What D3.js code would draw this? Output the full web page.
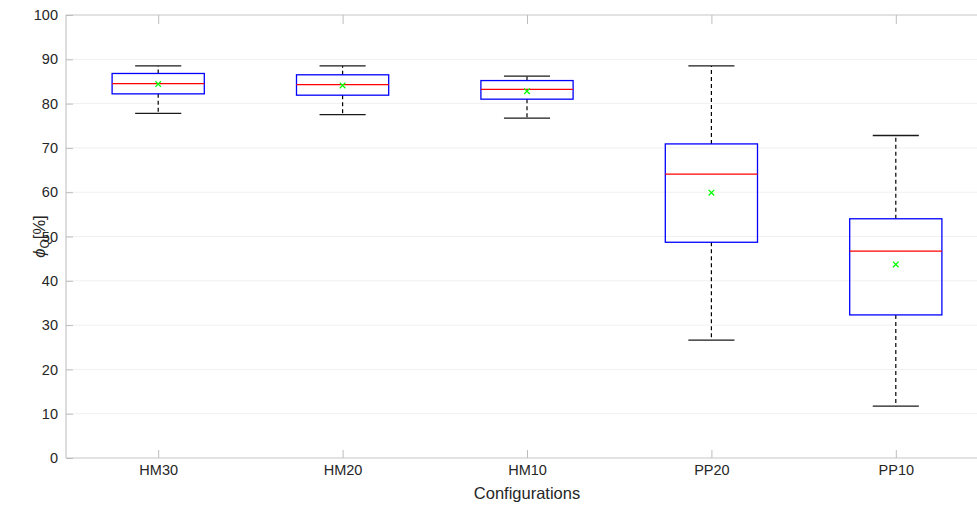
<!DOCTYPE html>
<html>
<head>
<meta charset="utf-8">
<script src="https://cdn.jsdelivr.net/npm/d3@7"></script>
<style>
  html, body { margin: 0; padding: 0; background: #fff; overflow: hidden; }
  svg { display: block; font-family: "Liberation Sans", Arial, sans-serif; }
</style>
</head>
<body>
<svg id="chart" width="977" height="506"></svg>
<script>
// Box-plot statistics per configuration
const categories = ["HM30", "HM20", "HM10", "PP20", "PP10"];
const whiskerLow  = [77.8, 77.5, 76.7, 26.6, 11.7];
const quartile1   = [82.2, 81.9, 81.0, 48.7, 32.3];
const medians     = [84.5, 84.3, 83.2, 64.1, 46.7];
const quartile3   = [86.8, 86.5, 85.2, 70.9, 54.0];
const whiskerHigh = [88.5, 88.5, 86.2, 88.5, 72.8];
const means       = [84.4, 84.1, 82.8, 59.9, 43.7];
const yTicks = [0, 10, 20, 30, 40, 50, 60, 70, 80, 90, 100];

const svg = d3.select("#chart");
const plotLeft = 66, plotTop = 15, plotBottom = 458, plotRight = 988;

const x = d3.scaleLinear().domain([0.5, categories.length + 0.5]).range([plotLeft, plotRight]);
const y = d3.scaleLinear().domain([0, 100]).range([plotBottom, plotTop]);

const boxHalf = 0.25, capHalf = 0.125;
const textColor = "#262626";

// grid
svg.append("g").selectAll("line").data(yTicks.slice(1, -1)).join("line")
  .attr("x1", plotLeft).attr("x2", plotRight)
  .attr("y1", d => y(d)).attr("y2", d => y(d))
  .attr("stroke", "#f0f0f0").attr("stroke-width", 1);

// axes frame
const axisColor = "#c6c6c6";
svg.append("line").attr("x1", plotLeft).attr("x2", plotRight).attr("y1", plotTop).attr("y2", plotTop)
  .attr("stroke", axisColor).attr("stroke-width", 1.2);
svg.append("line").attr("x1", plotLeft).attr("x2", plotRight).attr("y1", plotBottom).attr("y2", plotBottom)
  .attr("stroke", axisColor).attr("stroke-width", 1.2);
svg.append("line").attr("x1", plotLeft).attr("x2", plotLeft).attr("y1", plotTop).attr("y2", plotBottom)
  .attr("stroke", axisColor).attr("stroke-width", 1.2);

// y axis (ticks inward)
const yAxis = svg.append("g").attr("transform", `translate(${plotLeft},0)`)
  .call(d3.axisLeft(y).tickValues(yTicks).tickSize(-7).tickPadding(8).tickFormat(d3.format("d")));
yAxis.select(".domain").remove();
yAxis.selectAll(".tick line").attr("stroke", "#bdbdbd");
yAxis.selectAll("text").attr("fill", textColor).style("font-size", "14.5px");

// x axis (ticks inward, bottom and top)
const idx = categories.map((c, i) => i + 1);
const xAxis = svg.append("g").attr("transform", `translate(0,${plotBottom})`)
  .call(d3.axisBottom(x).tickValues(idx).tickSize(-8).tickPadding(7).tickFormat(i => categories[i - 1]));
xAxis.select(".domain").remove();
xAxis.selectAll(".tick line").attr("stroke", "#bdbdbd");
xAxis.selectAll("text").attr("fill", textColor).style("font-size", "14.5px");

const xTop = svg.append("g").attr("transform", `translate(0,${plotTop})`)
  .call(d3.axisTop(x).tickValues(idx).tickSize(-9).tickFormat(""));
xTop.select(".domain").remove();
xTop.selectAll(".tick line").attr("stroke", "#bdbdbd");

// boxes
const g = svg.append("g");
categories.forEach((c, i) => {
  const cx = i + 1;
  // whiskers
  g.append("line").attr("x1", x(cx)).attr("x2", x(cx))
    .attr("y1", y(quartile3[i])).attr("y2", y(whiskerHigh[i]))
    .attr("stroke", "#000").attr("stroke-width", 1.2).attr("stroke-dasharray", "4,3");
  g.append("line").attr("x1", x(cx)).attr("x2", x(cx))
    .attr("y1", y(quartile1[i])).attr("y2", y(whiskerLow[i]))
    .attr("stroke", "#000").attr("stroke-width", 1.2).attr("stroke-dasharray", "4,3");
  // caps
  [whiskerHigh[i], whiskerLow[i]].forEach(v => {
    g.append("line").attr("x1", x(cx - capHalf)).attr("x2", x(cx + capHalf))
      .attr("y1", y(v)).attr("y2", y(v))
      .attr("stroke", "#1a1a1a").attr("stroke-width", 1.3);
  });
  // box
  g.append("rect").attr("x", x(cx - boxHalf)).attr("width", x(cx + boxHalf) - x(cx - boxHalf))
    .attr("y", y(quartile3[i])).attr("height", y(quartile1[i]) - y(quartile3[i]))
    .attr("fill", "none").attr("stroke", "#0000ff").attr("stroke-width", 1.3);
  // median
  g.append("line").attr("x1", x(cx - boxHalf)).attr("x2", x(cx + boxHalf))
    .attr("y1", y(medians[i])).attr("y2", y(medians[i]))
    .attr("stroke", "#ff0000").attr("stroke-width", 1.3);
  // mean marker
  const mx = x(cx), my = y(means[i]), s = 2.8;
  g.append("path").attr("d", `M${mx - s},${my - s}L${mx + s},${my + s}M${mx - s},${my + s}L${mx + s},${my - s}`)
    .attr("stroke", "#00ff00").attr("stroke-width", 1.3);
});

// x axis title
svg.append("text").attr("x", 527).attr("y", 499)
  .attr("text-anchor", "middle").attr("fill", textColor).style("font-size", "16.5px")
  .text("Configurations");

// y axis title: phi with subscript Q, laid out piece by piece along the rotated baseline
const yTitle = svg.append("g").attr("transform", `translate(45,${(plotTop + plotBottom) / 2}) rotate(-90)`);
const parts = [
  { t: "ϕ", size: 16.5, dy: 0, italic: true },
  { t: "Q", size: 12, dy: 4, italic: false },
  { t: " [%]", size: 16.5, dy: 0, italic: false }
];
const nodes = parts.map(p => yTitle.append("text")
  .attr("y", p.dy).attr("fill", textColor)
  .style("font-size", p.size + "px")
  .style("font-style", p.italic ? "italic" : "normal")
  .text(p.t));
const widths = nodes.map(n => n.node().getComputedTextLength());
const total = d3.sum(widths);
let cursor = -total / 2;
nodes.forEach((n, i) => { n.attr("x", cursor); cursor += widths[i]; });
</script>
</body>
</html>
